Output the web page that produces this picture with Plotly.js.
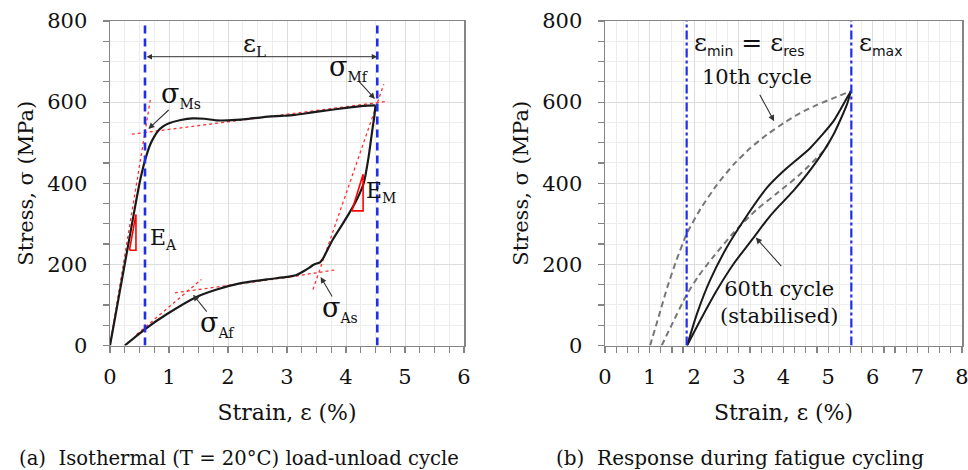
<!DOCTYPE html>
<html><head><meta charset="utf-8">
<script src="https://cdn.plot.ly/plotly-3.0.1.min.js"></script>
<style>html,body{margin:0;padding:0;background:#fff}#c{width:968px;height:470px}</style>
</head><body><div id="c"></div>
<script>
// ---- Panel (a): isothermal load-unload cycle ----
const loadStrain   = [0,0.1,0.2,0.3,0.4,0.5,0.55,0.6,0.68,0.75,0.82,0.9,1.0,1.2,1.4,1.6,1.8,2.0,2.3,2.6,2.9,3.1,3.4,3.7,4.0,4.3,4.5];
const loadStress   = [0,80,161,241,322,400,432,460,495,515,530,540,548,556,560,559,555,555,558,563,566,568,574,580,586,591,592];
const unloadStrain = [4.5,4.48,4.44,4.38,4.3,4.2,4.05,3.9,3.78,3.7,3.62,3.56,3.5,3.45,3.38,3.28,3.15,3.0,2.66,2.2,1.81,1.44,0.96,0.59,0.25];
const unloadStress = [592,565,525,462,400,365,325,290,262,240,217,205,202,199,192,183,173,169,163,153,138,118,77,40,0];
// tangent construction lines (red dotted)
const tanEA   = {x:[0,0.69],      y:[0,612]};
const tanMs   = {x:[0.37,4.71],   y:[521,602]};
const tanMf   = {x:[3.44,4.64],   y:[138,644]};
const tanAs   = {x:[3.05,3.8],    y:[169,186]};
const tanAfP  = {x:[1.1,3.1],     y:[130,170]};
const tanAfS  = {x:[0.45,1.55],   y:[27,163]};
// modulus triangles
const triEA = {x:[0.33,0.44,0.44,0.33], y:[235,235,323,235]};
const triEM = {x:[4.10,4.29,4.29,4.10], y:[332,332,422,332]};
// vertical markers (strain %)
const epsStartA = 0.593, epsEndA = 4.53;
const epsLy = 712;

// ---- Panel (b): fatigue cycling ----
const c10UpStrain = [1.01,1.2,1.4,1.6,1.83,2.13,2.5,2.88,3.25,3.63,4.0,4.37,4.75,5.12,5.51];
const c10UpStress = [0,70,145,210,275,335,395,446,486,520,548,573,593,610,627];
const c10LoStrain = [1.27,1.5,1.83,2.1,2.4,2.88,3.4,3.85,4.37,4.89,5.05];
const c10LoStress = [0,52,125,172,215,278,335,375,422,479,505];
const c60UpStrain = [1.84,2.06,2.35,2.73,3.1,3.63,4.0,4.6,5.12,5.42,5.51];
const c60UpStress = [0,78,160,242,307,389,430,487,553,610,627];
const c60LoStrain = [1.84,2.13,2.5,2.88,3.33,3.63,3.85,4.22,4.75,5.12,5.42,5.51];
const c60LoStress = [0,61,135,201,266,310,338,381,455,520,594,627];
const epsMin = 1.83, epsMax = 5.52;

const FONT = "'DejaVu Serif', 'Liberation Serif', serif";
const BLK = '#1a1a1a';

function line(x,y,xa,ya,style){return Object.assign({x:x,y:y,xaxis:xa,yaxis:ya,mode:'lines',hoverinfo:'skip',showlegend:false},style);}

const red = {line:{color:'#ff3030',width:1.3,dash:'dot'}};
const traces = [
  line(tanEA.x,tanEA.y,'x','y',red),
  line(tanMs.x,tanMs.y,'x','y',red),
  line(tanMf.x,tanMf.y,'x','y',red),
  line(tanAs.x,tanAs.y,'x','y',red),
  line(tanAfP.x,tanAfP.y,'x','y',red),
  line(tanAfS.x,tanAfS.y,'x','y',red),
  line(loadStrain,loadStress,'x','y',{line:{color:BLK,width:2.2,shape:'spline',smoothing:0.6}}),
  line(unloadStrain,unloadStress,'x','y',{line:{color:BLK,width:2.2,shape:'spline',smoothing:0.6}}),
  line(triEA.x,triEA.y,'x','y',{line:{color:'#ff0000',width:1.6}}),
  line(triEM.x,triEM.y,'x','y',{line:{color:'#ff0000',width:1.6}}),
  line([epsStartA,epsStartA],[0,800],'x','y',{line:{color:'#1f2eea',width:2.6,dash:'8px,5px'}}),
  line([epsEndA,epsEndA],[0,800],'x','y',{line:{color:'#1f2eea',width:2.6,dash:'8px,5px'}}),

  line(c10UpStrain,c10UpStress,'x2','y2',{line:{color:'#777',width:2,dash:'6px,4px',shape:'spline',smoothing:0.6}}),
  line(c10LoStrain,c10LoStress,'x2','y2',{line:{color:'#777',width:2,dash:'6px,4px',shape:'spline',smoothing:0.6}}),
  line(c60UpStrain,c60UpStress,'x2','y2',{line:{color:BLK,width:2,shape:'spline',smoothing:0.6}}),
  line(c60LoStrain,c60LoStress,'x2','y2',{line:{color:BLK,width:2,shape:'spline',smoothing:0.6}}),
  line([epsMin,epsMin],[0,800],'x2','y2',{line:{color:'#1f2eea',width:2.2,dash:'dashdot'}}),
  line([epsMax,epsMax],[0,800],'x2','y2',{line:{color:'#1f2eea',width:2.2,dash:'dashdot'}})
];

function xax(domain,range,anchor){
  return {domain:domain,range:range,anchor:anchor,dtick:1,tick0:0,showline:true,linecolor:'#858585',linewidth:1.5,mirror:true,
    ticks:'outside',ticklen:6,tickcolor:'#858585',tickwidth:1.2,showgrid:true,gridcolor:'#dcdcdc',gridwidth:1,zeroline:false,
    minor:{dtick:0.25,showgrid:true,gridcolor:'#ededed',ticks:'outside',ticklen:6,tickcolor:'#858585',tickwidth:1.2},
    tickfont:{family:FONT,size:21,color:'#111'},ticklabelstandoff:6,ticklabeloverflow:'allow',
    title:{text:'Strain, ε (%)',font:{family:FONT,size:22,color:'#111'},standoff:16}};
}
function yax(domain,anchor){
  return {domain:domain,range:[0,800],anchor:anchor,dtick:200,tick0:0,showline:true,linecolor:'#858585',linewidth:1.5,mirror:true,
    ticks:'outside',ticklen:6,tickcolor:'#858585',tickwidth:1.2,showgrid:true,gridcolor:'#dcdcdc',gridwidth:1,zeroline:false,
    minor:{dtick:50,showgrid:true,gridcolor:'#ededed',ticks:'outside',ticklen:6,tickcolor:'#858585',tickwidth:1.2},
    tickfont:{family:FONT,size:21,color:'#111'},ticklabelstandoff:11,
    title:{text:'Stress, σ (MPa)',font:{family:FONT,size:21,color:'#111'},standoff:8}};
}

const ydom = [1-345.5/470, 1-21/470];
function arrow(x,y,ax,ay,xr,yr){return {x:x,y:y,ax:ax,ay:ay,xref:xr,yref:yr,axref:xr,ayref:yr,text:'',showarrow:true,arrowhead:2,arrowsize:1.1,arrowwidth:1.1,arrowcolor:'#333'};}
function txt(x,y,t,xr,yr,size,xa){return {x:x,y:y,xref:xr,yref:yr,text:t,showarrow:false,font:{family:FONT,size:size||22,color:'#111'},xanchor:xa||'center',yanchor:'middle'};}
function sub(t,size,sans){return '<sub><span style="font-size:'+size+'px'+(sans?";font-family:'DejaVu Sans'":'')+'">'+t+'</span></sub>';}

const annotations = [
  // panel a
  Object.assign(arrow(epsEndA,epsLy,epsStartA,epsLy,'x','y'),{arrowside:'end+start',arrowwidth:1}),
  txt(2.45,742,'ε'+sub('L',15),'x','y',25),
  arrow(0.65,534,1.02,584,'x','y'),
  txt(1.2,617,'σ'+sub('Ms',14),'x','y',27),
  arrow(4.49,608,4.2,654,'x','y'),
  txt(4.05,683,'σ'+sub('Mf',14),'x','y',27),
  txt(0.64,263,'E'+sub('A',14),'x','y',22,'left'),
  txt(4.31,378,'E'+sub('M',14),'x','y',22,'left'),
  arrow(1.41,125,1.66,80,'x','y'),
  txt(1.83,52,'σ'+sub('Af',14),'x','y',27),
  arrow(3.57,169,3.78,117,'x','y'),
  txt(3.9,90,'σ'+sub('As',14),'x','y',27),
  // panel b
  txt(1.95,744,'ε'+sub('min',14,true)+' = ε'+sub('res',14,true),'x2','y2',25,'left'),
  txt(5.64,744,'ε'+sub('max',14,true),'x2','y2',25,'left'),
  txt(3.41,663,'10th cycle','x2','y2',21),
  arrow(3.79,553,3.45,622,'x2','y2'),
  txt(3.9,107,'60th cycle<br>(stabilised)','x2','y2',21),
  arrow(3.38,266,3.98,192,'x2','y2'),
  // captions
  {x:239/968,y:1-458/470,xref:'paper',yref:'paper',text:'(a)  Isothermal (T = 20°C) load-unload cycle',showarrow:false,font:{family:FONT,size:19.6,color:'#111'},xanchor:'center',yanchor:'middle'},
  {x:740/968,y:1-458/470,xref:'paper',yref:'paper',text:'(b)  Response during fatigue cycling',showarrow:false,font:{family:FONT,size:20,color:'#111'},xanchor:'center',yanchor:'middle'}
];

const layout = {
  width:968,height:470,margin:{l:0,r:0,t:0,b:0},paper_bgcolor:'#fff',plot_bgcolor:'#fff',showlegend:false,
  xaxis:xax([110/968,464/968],[0,6],'y'),
  yaxis:yax(ydom,'x'),
  xaxis2:xax([605/968,962/968],[0,8],'y2'),
  yaxis2:yax(ydom,'x2'),
  annotations:annotations,
  font:{family:FONT}
};
Plotly.newPlot('c',traces,layout,{staticPlot:true,displayModeBar:false});
</script></body></html>
